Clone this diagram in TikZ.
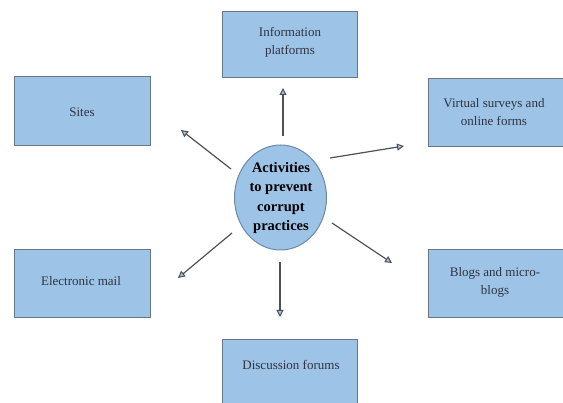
\documentclass[tikz,border=0pt]{standalone}
\usepackage{fontspec}
\setmainfont{Liberation Serif}
\usetikzlibrary{arrows.meta}
\definecolor{boxfill}{HTML}{9DC3E6}
\definecolor{boxline}{HTML}{687888}
\definecolor{ellline}{HTML}{6A8AAA}
\definecolor{txt}{HTML}{2E3440}
\definecolor{arr}{HTML}{505050}
\begin{document}
\begin{tikzpicture}[x=1pt,y=-1pt,
  boxstyle/.style={draw=boxline,line width=1pt,fill=boxfill},
  boxtext/.style={text=txt,align=center,font=\fontsize{13}{18.5}\selectfont,inner sep=0pt},
  conn/.style={draw=arr,line width=1.2pt,-{Triangle[open,fill=boxfill,length=7pt,width=7pt,line width=1pt]}}]
\useasboundingbox (0,0) rectangle (563,403);
% boxes
\draw[boxstyle] (222,12) rectangle (357,78);
\node[boxtext] (info) at (290,42.5) {Information\\platforms};
\draw[boxstyle] (14,77) rectangle (150,146);
\node[boxtext] (sites) at (82,112) {Sites};
\draw[boxstyle] (428,79) rectangle (566,147);
\node[boxtext] (virt) at (494,112) {Virtual surveys and\\online forms};
\draw[boxstyle] (14,250) rectangle (150,318);
\node[boxtext] (mail) at (81,281) {Electronic mail};
\draw[boxstyle] (428,250) rectangle (566,318);
\node[boxtext] (blogs) at (495,282.5) {Blogs and micro-\\blogs};
\draw[boxstyle] (222,340) rectangle (357,410);
\node[boxtext] (disc) at (291,365) {Discussion forums};
% ellipse
\draw[draw=ellline,line width=1pt,fill=boxfill] (280.5,197.5) ellipse [x radius=46, y radius=52.5];
\node[text=black,align=center,font=\bfseries\fontsize{14.5}{19.5}\selectfont,inner sep=0pt] (center) at (281,198) {Activities\\to prevent\\corrupt\\practices};
% connector ends
\coordinate (u1) at (283,136); \coordinate (u2) at (283,88);
\coordinate (s1) at (231,169); \coordinate (s2) at (181,130);
\coordinate (v1) at (330,158); \coordinate (v2) at (404,146);
\coordinate (m1) at (232,233); \coordinate (m2) at (178,278);
\coordinate (b1) at (332,223); \coordinate (b2) at (392,263);
\coordinate (d1) at (280,262); \coordinate (d2) at (280,317);
\draw[conn] (u1) -- (u2);
\draw[conn] (s1) -- (s2);
\draw[conn] (v1) -- (v2);
\draw[conn] (m1) -- (m2);
\draw[conn] (b1) -- (b2);
\draw[conn] (d1) -- (d2);
\end{tikzpicture}
\end{document}
